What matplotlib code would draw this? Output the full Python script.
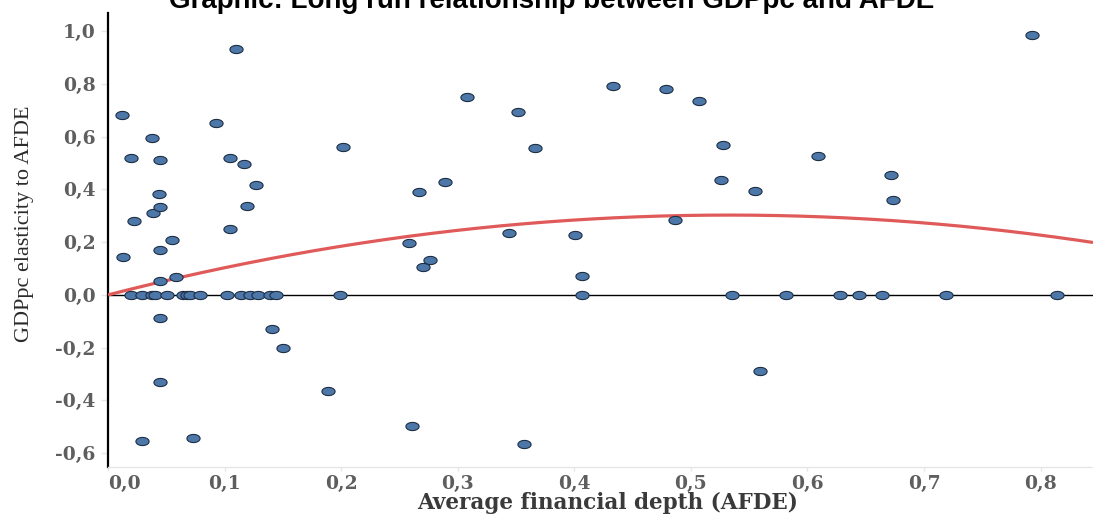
import numpy as np
import matplotlib
matplotlib.use("Agg")
import matplotlib.pyplot as plt
from matplotlib.path import Path
from matplotlib.ticker import FixedLocator

# ---------------- data ----------------
afde_nonzero = [0.012, 0.020, 0.022, 0.013, 0.038, 0.039, 0.045, 0.044, 0.045, 0.045,
                0.055, 0.045, 0.058, 0.045, 0.045, 0.029, 0.073, 0.093, 0.110, 0.105,
                0.105, 0.117, 0.127, 0.119, 0.141, 0.150, 0.189, 0.202, 0.258, 0.267,
                0.270, 0.276, 0.289, 0.308, 0.261, 0.344, 0.352, 0.366, 0.357, 0.401,
                0.407, 0.433, 0.479, 0.507, 0.486, 0.528, 0.526, 0.555, 0.559, 0.609,
                0.672, 0.673, 0.793]
elast_nonzero = [0.682, 0.519, 0.280, 0.144, 0.595, 0.311, 0.511, 0.383, 0.333, 0.170,
                 0.208, 0.053, 0.066, -0.087, -0.330, -0.553, -0.542, 0.652, 0.932, 0.519,
                 0.250, 0.496, 0.417, 0.337, -0.129, -0.201, -0.364, 0.561, 0.198, 0.388,
                 0.106, 0.134, 0.428, 0.750, -0.496, 0.235, 0.693, 0.555, -0.564, 0.228,
                 0.072, 0.792, 0.780, 0.735, 0.284, 0.568, 0.437, 0.394, -0.288, 0.527,
                 0.455, 0.360, 0.985]
afde_zero = [0.020, 0.029, 0.038, 0.040, 0.051, 0.064, 0.068, 0.070, 0.079, 0.102,
             0.114, 0.122, 0.129, 0.139, 0.144, 0.199, 0.407, 0.535, 0.582, 0.628,
             0.644, 0.664, 0.719, 0.814]
elast_zero = [0.0] * len(afde_zero)

trend_coef = [1.135, -1.065]          # y = b1*x + b2*x^2 (polynomial trendline)

x_ticks = [0.0, 0.1, 0.2, 0.3, 0.4, 0.5, 0.6, 0.7, 0.8]
x_labels = ["0,0", "0,1", "0,2", "0,3", "0,4", "0,5", "0,6", "0,7", "0,8"]
y_ticks = [1.0, 0.8, 0.6, 0.4, 0.2, 0.0, -0.2, -0.4, -0.6]
y_labels = ["1,0", "0,8", "0,6", "0,4", "0,2", "0,0", "-0,2", "-0,4", "-0,6"]

title = "Graphic: Long run relationship between GDPpc and AFDE"
xlabel = "Average financial depth (AFDE)"
ylabel = "GDPpc elasticity to AFDE"

# ---------------- figure ----------------
fig = plt.figure(figsize=(10.93, 5.16), dpi=100)
ax = fig.add_axes([108 / 1093, 1 - 467 / 516, 1 - 108 / 1093, (467 - 13) / 516])

ax.set_xlim(0, 0.845)
ax.set_ylim(-0.652, 1.068)

# zero line
ax.axhline(0, color="black", lw=1.0, zorder=2)

# trend line
xs = np.linspace(0, 0.845, 300)
ys = trend_coef[0] * xs + trend_coef[1] * xs ** 2
ax.plot(xs, ys, color="#E05A5A", lw=2.3, zorder=3, solid_capstyle="butt")

# elliptical marker
th = np.linspace(0, 2 * np.pi, 64)
ell = Path(np.column_stack([np.cos(th), 0.62 * np.sin(th)]), closed=True)

ax.scatter(afde_nonzero + afde_zero, elast_nonzero + elast_zero, marker=ell, s=90,
           facecolor="#4C77A8", edgecolor="#1E2F44", linewidths=0.8, zorder=4)

# spines
for s in ["top", "right"]:
    ax.spines[s].set_visible(False)
ax.spines["left"].set_color("black")
ax.spines["left"].set_linewidth(1.6)
ax.spines["bottom"].set_color("#E6E6E6")
ax.spines["bottom"].set_linewidth(1.0)

tick_font = dict(family="DejaVu Serif", weight="bold", size=13.5)
lab_color = "#5E5E5E"

ax.xaxis.set_major_locator(FixedLocator(x_ticks))
ax.set_xticklabels(x_labels, fontdict=tick_font, color=lab_color)
ax.yaxis.set_major_locator(FixedLocator(y_ticks))
ax.set_yticklabels(y_labels, fontdict=tick_font, color=lab_color)
ax.tick_params(axis="x", length=3, color="#E6E6E6", width=1.0, pad=3)
ax.tick_params(axis="y", length=5, color="#E6E6E6", width=1.0, pad=4)
ax.get_xticklabels()[0].set_horizontalalignment("left")

# texts
fig.text(552 / 1093, 1 - 8 / 516, title, ha="center", va="baseline",
         family="Liberation Sans", weight="bold", size=20, color="black")
fig.text(608 / 1093, 1 - 509 / 516, xlabel, ha="center", va="baseline",
         family="DejaVu Serif", weight="bold", size=15.5, color="#3A3A3A")
fig.text(25 / 1093, 1 - 224 / 516, ylabel, ha="center", va="center", rotation=90,
         family="Liberation Serif", size=16, color="#2A2A2A")

fig.savefig("out.png", dpi=100)
